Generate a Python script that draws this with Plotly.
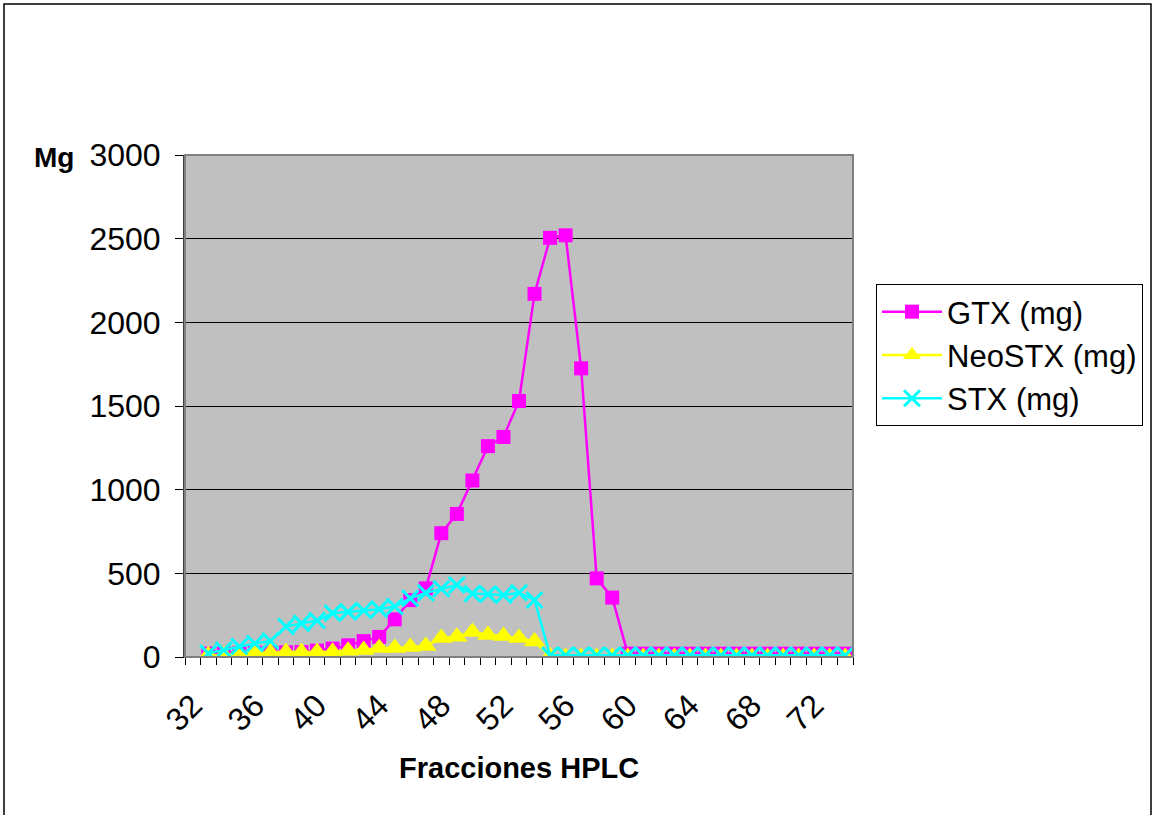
import plotly.graph_objects as go

# Data
fracciones = list(range(33, 75))
gtx_mg = [20, 20, 22, 25, 25, 28, 30, 38, 50,
          70, 95, 120, 225, 340, 410, 740, 855, 1055, 1260, 1315, 1530, 2170, 2505, 2520, 1725, 470, 355,
          20, 20, 20, 20, 20, 20, 20, 20, 20, 20, 20, 20, 20, 20, 20]
neostx_mg = [10, 12, 20, 25, 25, 30, 30, 30, 32, 38, 42, 54, 54, 60, 66, 113, 121, 150, 131, 125, 113, 92,
             5, 0, 0, 0, 0, 0, 0, 0, 0, 0, 0, 0, 0, 0, 0, 0, 0, 0, 0, 0]
stx_mg = [22, 41, 63, 81, 96, 182, 201, 218, 262, 270, 278, 286, 302, 350, 383, 408, 430, 379, 376, 370, 384, 341,
          10, 10, 10, 10, 10, 10, 10, 10, 10, 10, 10, 10, 10, 10, 10, 10, 10, 10, 10, 10]
x_tick_vals = list(range(32, 73, 4))
y_tick_vals = [0, 500, 1000, 1500, 2000, 2500, 3000]

FONT = "Liberation Sans, Arial, sans-serif"

# pixel geometry helpers
W, H = 1154, 815
L, R, T, B = 185, 853, 155, 657
pw, ph = R - L, B - T


def px(xp):
    return (xp - L) / pw


def py(yp):
    return (B - yp) / ph


fig = go.Figure()
fig.add_trace(go.Scatter(
    x=fracciones, y=gtx_mg, name="GTX (mg)", mode="lines+markers",
    line=dict(color="#FF00FF", width=2.5),
    marker=dict(symbol="square", size=14, color="#FF00FF"),
))
fig.add_trace(go.Scatter(
    x=fracciones, y=neostx_mg, name="NeoSTX (mg)", mode="lines+markers",
    line=dict(color="#FFFF00", width=2.5),
    marker=dict(symbol="triangle-up", size=19, color="#FFFF00"),
))
fig.add_trace(go.Scatter(
    x=fracciones, y=stx_mg, name="STX (mg)", mode="lines+markers",
    line=dict(color="#00FFFF", width=2.5),
    marker=dict(symbol="x-thin", size=16, color="#00FFFF",
                line=dict(color="#00FFFF", width=3)),
))

fig.update_layout(
    width=W, height=H,
    margin=dict(l=L, r=W - R, t=T, b=H - B, pad=0, autoexpand=False),
    paper_bgcolor="white",
    plot_bgcolor="#C0C0C0",
    font=dict(family=FONT, size=31, color="black"),
    showlegend=True,
    legend=dict(
        x=px(876), y=py(284), xanchor="left", yanchor="top",
        bgcolor="white", bordercolor="black", borderwidth=1,
        font=dict(family=FONT, size=31, color="black"),
        itemwidth=60, tracegroupgap=0,
    ),
    hovermode=False,
)

fig.update_xaxes(
    range=[31.5, 74.5],
    tickmode="array", tickvals=x_tick_vals, ticktext=[str(v) for v in x_tick_vals],
    tickangle=-45, ticks="", ticklabelstandoff=16,
    tickfont=dict(family=FONT, size=32, color="black"),
    showgrid=False, zeroline=False,
    showline=True, linecolor="black", linewidth=1,
    minor=dict(ticks="outside", tick0=31.5, dtick=1, ticklen=7, tickcolor="black", tickwidth=1, showgrid=False),
)
fig.update_yaxes(
    range=[0, 3000],
    tickmode="array", tickvals=y_tick_vals,
    ticks="outside", ticklen=8, tickcolor="black", tickwidth=1, ticklabelstandoff=8,
    tickfont=dict(family=FONT, size=32, color="black"),
    showgrid=True, gridcolor="black", gridwidth=1,
    zeroline=False,
    showline=True, linecolor="#404040", linewidth=2,
)

# plot-area border
fig.add_shape(type="rect", xref="paper", yref="paper", x0=0, x1=1, y0=0, y1=1,
              line=dict(color="#808080", width=2), layer="above")
# outer chart frame
fig.add_shape(type="rect", xref="paper", yref="paper",
              x0=px(4), x1=px(1151), y0=py(822), y1=py(4),
              line=dict(color="black", width=1.5))

fig.add_annotation(text="<b>Mg</b>", xref="paper", yref="paper",
                   x=px(76), y=py(157), xanchor="right", yanchor="middle",
                   showarrow=False, font=dict(family=FONT, size=28, color="black"))
fig.add_annotation(text="<b>Fracciones HPLC</b>", xref="paper", yref="paper",
                   x=px(519), y=py(768), xanchor="center", yanchor="middle",
                   showarrow=False, font=dict(family=FONT, size=29, color="black"))

fig.write_html("out.html", config={"displayModeBar": False})
